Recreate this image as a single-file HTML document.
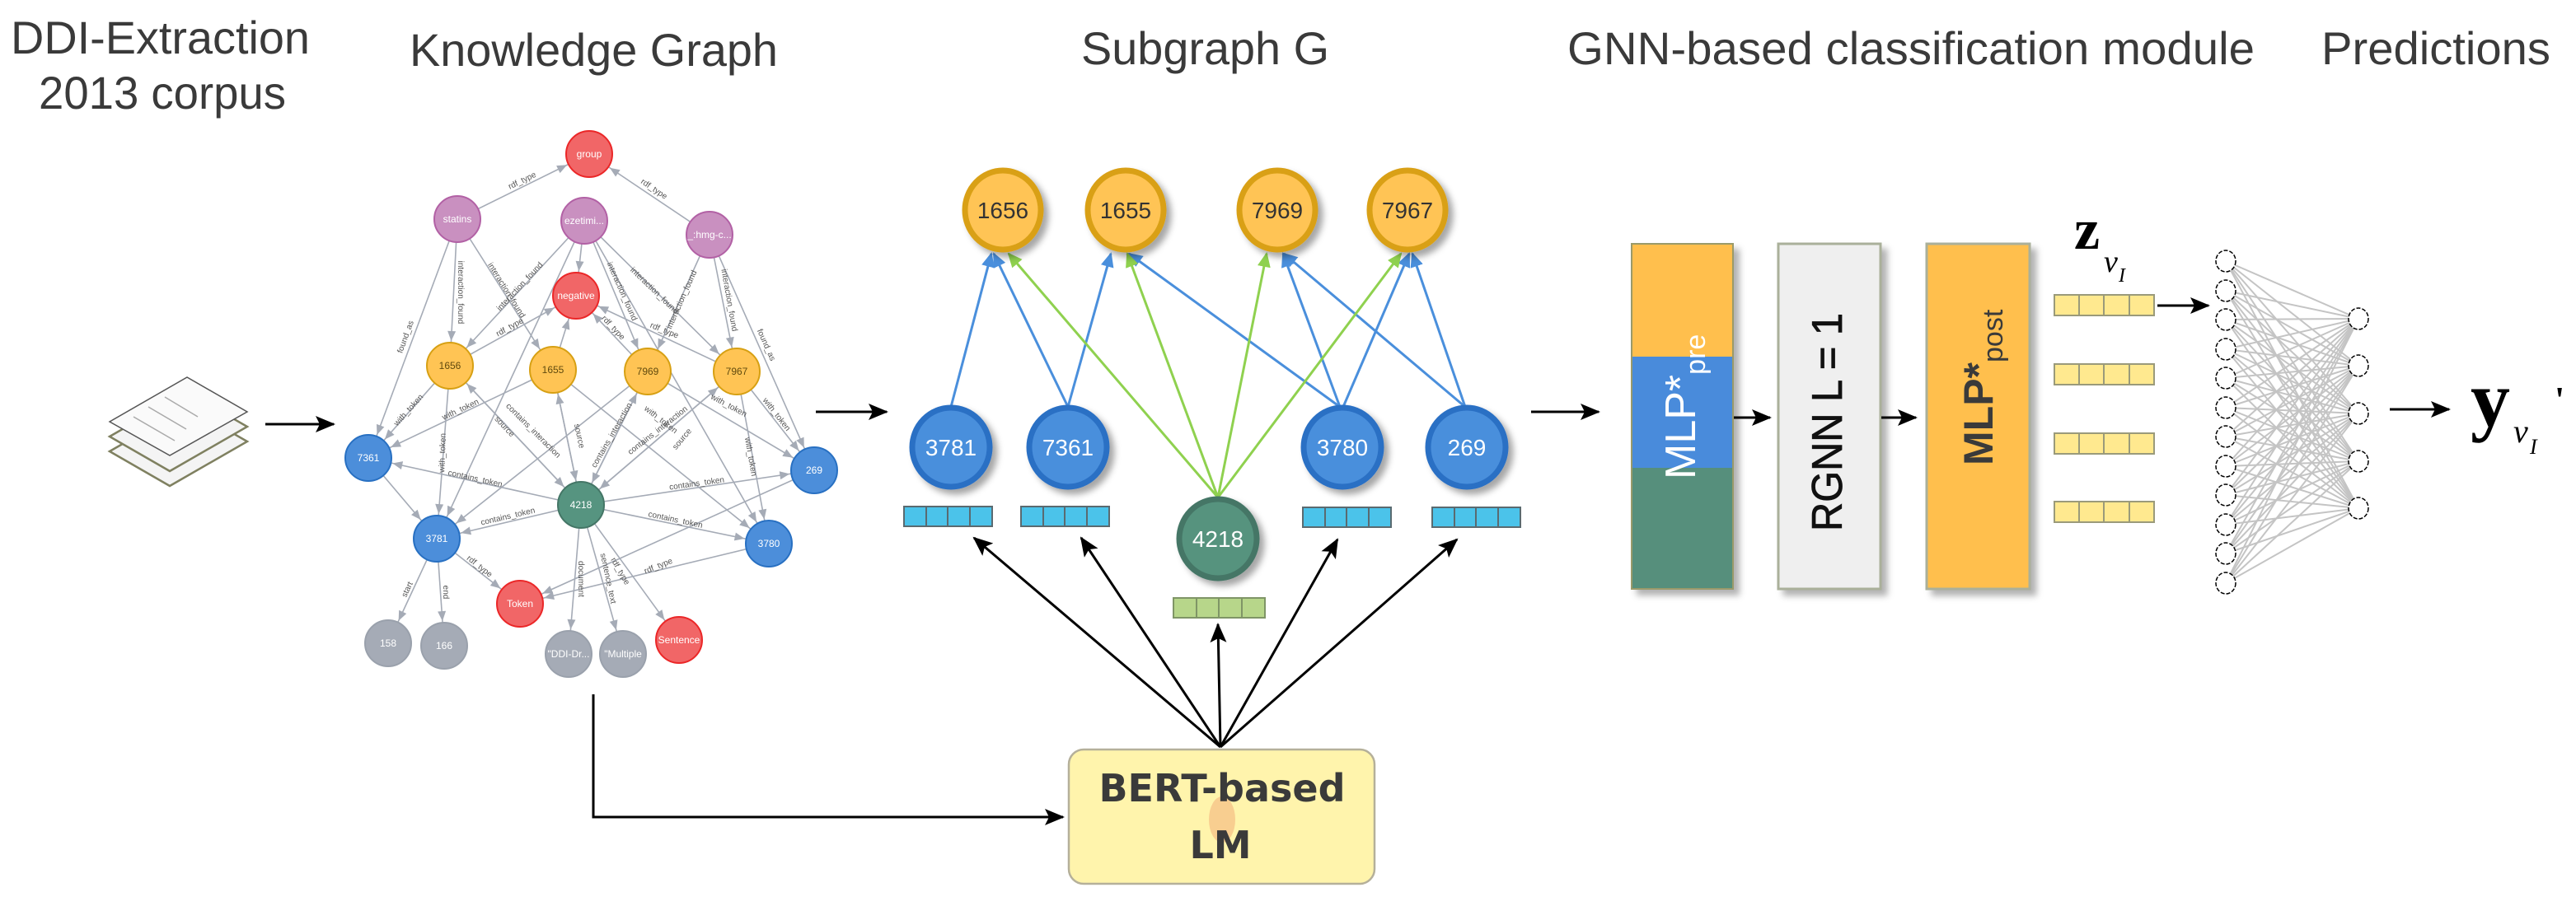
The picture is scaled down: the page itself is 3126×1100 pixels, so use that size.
<!DOCTYPE html>
<html><head><meta charset="utf-8"><style>
html,body{margin:0;padding:0;background:#fff;}
svg{display:block;}
</style></head><body>
<svg width="3126" height="1100" viewBox="0 0 3126 1100" xmlns="http://www.w3.org/2000/svg" font-family="Liberation Sans, Arial, sans-serif">
<defs>
  <marker id="kg" markerUnits="userSpaceOnUse" viewBox="-44 -6 44 12" markerWidth="44" markerHeight="12" refX="0" refY="0" orient="auto">
    <path d="M-42,-5 L-30,0 L-42,5 z" fill="#a5abb6"/>
  </marker>
  <marker id="blk" markerUnits="userSpaceOnUse" viewBox="0 -10 24 20" markerWidth="24" markerHeight="20" refX="22" refY="0" orient="auto">
    <path d="M0,-10 L24,0 L0,10 L5,0 z" fill="#000"/>
  </marker>
  <marker id="blu" markerUnits="userSpaceOnUse" viewBox="0 -8 18 16" markerWidth="18" markerHeight="16" refX="16" refY="0" orient="auto">
    <path d="M0,-8 L18,0 L0,8 z" fill="#4a8fdc"/>
  </marker>
  <marker id="grn" markerUnits="userSpaceOnUse" viewBox="0 -8 18 16" markerWidth="18" markerHeight="16" refX="16" refY="0" orient="auto">
    <path d="M0,-8 L18,0 L0,8 z" fill="#8fd14f"/>
  </marker>
  <filter id="sh" x="-30%" y="-30%" width="170%" height="170%">
    <feDropShadow dx="6" dy="6" stdDeviation="4" flood-color="#000" flood-opacity="0.35"/>
  </filter>
  <filter id="sh2" x="-20%" y="-10%" width="150%" height="130%">
    <feDropShadow dx="7" dy="7" stdDeviation="4" flood-color="#000" flood-opacity="0.3"/>
  </filter>
</defs>

<!-- Headers -->
<g fill="#3a3a3a" font-size="56">
  <text x="13" y="65" textLength="363" lengthAdjust="spacingAndGlyphs">DDI-Extraction</text>
  <text x="47" y="132" textLength="300" lengthAdjust="spacingAndGlyphs">2013 corpus</text>
  <text x="497" y="80" textLength="447" lengthAdjust="spacingAndGlyphs">Knowledge Graph</text>
  <text x="1312" y="78" textLength="301" lengthAdjust="spacingAndGlyphs">Subgraph G</text>
  <text x="1902" y="78" textLength="834" lengthAdjust="spacingAndGlyphs">GNN-based classification module</text>
  <text x="2817" y="78" textLength="278" lengthAdjust="spacingAndGlyphs">Predictions</text>
</g>

<!-- Document icon -->
<g stroke="#7f8060" stroke-width="2.5" fill="#f4f4f4">
  <polygon points="133,548 227,494 300,536 206,590"/>
  <polygon points="133,530 227,476 300,518 206,572"/>
  <polygon points="133,512 227,458 300,500 206,553" fill="#fafafa" stroke="#555" stroke-width="1.5"/>
</g>
<g stroke="#aaa" stroke-width="1.5">
  <line x1="162" y1="506" x2="212" y2="535"/>
  <line x1="180" y1="494" x2="226" y2="521"/>
  <line x1="200" y1="482" x2="240" y2="506"/>
</g>
<line x1="322" y1="515" x2="405" y2="515" stroke="#000" stroke-width="3" marker-end="url(#blk)"/>

<!-- Knowledge Graph edges -->
<g stroke="#a5abb6" stroke-width="1.6" marker-end="url(#kg)" fill="none">
  <line x1="555" y1="266" x2="715" y2="187"/>
  <line x1="861" y1="285" x2="715" y2="187"/>
  <line x1="555" y1="266" x2="546" y2="444"/>
  <line x1="555" y1="266" x2="671" y2="449"/>
  <line x1="555" y1="266" x2="447" y2="556"/>
  <line x1="709" y1="268" x2="546" y2="444"/>
  <line x1="709" y1="268" x2="699" y2="359"/>
  <line x1="709" y1="268" x2="786" y2="451"/>
  <line x1="709" y1="268" x2="894" y2="451"/>
  <line x1="709" y1="268" x2="530" y2="654"/>
  <line x1="709" y1="268" x2="933" y2="660"/>
  <line x1="861" y1="285" x2="786" y2="451"/>
  <line x1="861" y1="285" x2="894" y2="451"/>
  <line x1="861" y1="285" x2="988" y2="571"/>
  <line x1="546" y1="444" x2="699" y2="359"/>
  <line x1="671" y1="449" x2="699" y2="359"/>
  <line x1="786" y1="451" x2="699" y2="359"/>
  <line x1="894" y1="451" x2="699" y2="359"/>
  <line x1="546" y1="444" x2="447" y2="556"/>
  <line x1="546" y1="444" x2="530" y2="654"/>
  <line x1="546" y1="444" x2="705" y2="613"/>
  <line x1="671" y1="449" x2="447" y2="556"/>
  <line x1="671" y1="449" x2="705" y2="613"/>
  <line x1="671" y1="449" x2="933" y2="660"/>
  <line x1="786" y1="451" x2="705" y2="613"/>
  <line x1="786" y1="451" x2="530" y2="654"/>
  <line x1="786" y1="451" x2="988" y2="571"/>
  <line x1="894" y1="451" x2="988" y2="571"/>
  <line x1="894" y1="451" x2="933" y2="660"/>
  <line x1="894" y1="451" x2="705" y2="613"/>
  <line x1="705" y1="613" x2="546" y2="444"/>
  <line x1="705" y1="613" x2="671" y2="449"/>
  <line x1="705" y1="613" x2="786" y2="451"/>
  <line x1="705" y1="613" x2="894" y2="451"/>
  <line x1="705" y1="613" x2="447" y2="556"/>
  <line x1="705" y1="613" x2="988" y2="571"/>
  <line x1="705" y1="613" x2="530" y2="654"/>
  <line x1="705" y1="613" x2="933" y2="660"/>
  <line x1="705" y1="613" x2="690" y2="794"/>
  <line x1="705" y1="613" x2="756" y2="794"/>
  <line x1="705" y1="613" x2="824" y2="777"/>
  <line x1="530" y1="654" x2="631" y2="733"/>
  <line x1="988" y1="571" x2="631" y2="733"/>
  <line x1="933" y1="660" x2="631" y2="733"/>
  <line x1="530" y1="654" x2="471" y2="781"/>
  <line x1="530" y1="654" x2="539" y2="784"/>
  <line x1="447" y1="556" x2="530" y2="654"/>
</g>
<!-- KG edge labels -->
<g fill="#555" font-size="10" text-anchor="middle">
  <text transform="translate(635,222) rotate(-26)">rdf_type</text>
  <text transform="translate(792,232) rotate(34)">rdf_type</text>
  <text transform="translate(556,355) rotate(90)">interaction_found</text>
  <text transform="translate(612,354) rotate(58)">interaction_found</text>
  <text transform="translate(495,410) rotate(-70)">found_as</text>
  <text transform="translate(633,350) rotate(-47)">interaction_found</text>
  <text transform="translate(752,355) rotate(66)">interaction_found</text>
  <text transform="translate(792,355) rotate(44)">interaction_found</text>
  <text transform="translate(830,365) rotate(-66)">interaction_found</text>
  <text transform="translate(882,365) rotate(80)">interaction_found</text>
  <text transform="translate(927,420) rotate(66)">found_as</text>
  <text transform="translate(620,400) rotate(-29)">rdf_type</text>
  <text transform="translate(742,400) rotate(47)">rdf_type</text>
  <text transform="translate(805,404) rotate(22)">rdf_type</text>
  <text transform="translate(498,500) rotate(-48)">with_token</text>
  <text transform="translate(540,550) rotate(-88)">with_token</text>
  <text transform="translate(610,520) rotate(47)">source</text>
  <text transform="translate(560,500) rotate(-25)">with_token</text>
  <text transform="translate(645,525) rotate(45)">contains_interaction</text>
  <text transform="translate(700,530) rotate(78)">source</text>
  <text transform="translate(745,530) rotate(-60)">contains_interaction</text>
  <text transform="translate(800,525) rotate(-38)">contains_interaction</text>
  <text transform="translate(830,535) rotate(-50)">source</text>
  <text transform="translate(800,512) rotate(38)">with_token</text>
  <text transform="translate(883,495) rotate(28)">with_token</text>
  <text transform="translate(940,505) rotate(52)">with_token</text>
  <text transform="translate(908,555) rotate(80)">with_token</text>
  <text transform="translate(576,584) rotate(12.5)">contains_token</text>
  <text transform="translate(846,590) rotate(-8)">contains_token</text>
  <text transform="translate(617,630) rotate(-13)">contains_token</text>
  <text transform="translate(819,634) rotate(12)">contains_token</text>
  <text transform="translate(580,690) rotate(38)">rdf_type</text>
  <text transform="translate(800,690) rotate(-22)">rdf_type</text>
  <text transform="translate(750,695) rotate(60)">rdf_type</text>
  <text transform="translate(702,703) rotate(90)">document</text>
  <text transform="translate(735,703) rotate(78)">sentence_text</text>
  <text transform="translate(497,717) rotate(-65)">start</text>
  <text transform="translate(538,719) rotate(90)">end</text>
</g>
<!-- KG nodes -->
<g stroke-width="2" font-size="13" text-anchor="middle" fill="#fff">
  <g fill="#f16667" stroke="#eb2728">
    <circle cx="715" cy="187" r="28"/><circle cx="699" cy="359" r="28"/>
    <circle cx="631" cy="733" r="28"/><circle cx="824" cy="777" r="28"/>
  </g>
  <g fill="#c990c0" stroke="#b261a5">
    <circle cx="555" cy="266" r="28"/><circle cx="709" cy="268" r="28"/><circle cx="861" cy="285" r="28"/>
  </g>
  <g fill="#ffc454" stroke="#d7a013">
    <circle cx="546" cy="444" r="28"/><circle cx="671" cy="449" r="28"/>
    <circle cx="786" cy="451" r="28"/><circle cx="894" cy="451" r="28"/>
  </g>
  <g fill="#4c8eda" stroke="#2870c2">
    <circle cx="447" cy="556" r="28"/><circle cx="988" cy="571" r="28"/>
    <circle cx="530" cy="654" r="28"/><circle cx="933" cy="660" r="28"/>
  </g>
  <circle cx="705" cy="613" r="28" fill="#569480" stroke="#447666"/>
  <g fill="#a5abb6" stroke="#9aa1ac">
    <circle cx="471" cy="781" r="28"/><circle cx="539" cy="784" r="28"/>
    <circle cx="690" cy="794" r="28"/><circle cx="756" cy="794" r="28"/>
  </g>
</g>
<g font-size="12" text-anchor="middle" fill="#fff">
  <text x="715" y="191">group</text><text x="699" y="363">negative</text>
  <text x="631" y="737">Token</text><text x="824" y="781">Sentence</text>
  <text x="555" y="270">statins</text><text x="709" y="272">ezetimi...</text><text x="861" y="289">_:hmg-c...</text>
  <g fill="#604a0e"><text x="546" y="448">1656</text><text x="671" y="453">1655</text><text x="786" y="455">7969</text><text x="894" y="455">7967</text></g>
  <text x="447" y="560">7361</text><text x="988" y="575">269</text><text x="530" y="658">3781</text><text x="933" y="664">3780</text>
  <text x="705" y="617">4218</text>
  <text x="471" y="785">158</text><text x="539" y="788">166</text><text x="690" y="798">"DDI-Dr...</text><text x="756" y="798">"Multiple</text>
</g>

<!-- KG -> subgraph arrow -->
<line x1="990" y1="500" x2="1076" y2="500" stroke="#000" stroke-width="3" marker-end="url(#blk)"/>
<!-- KG -> BERT connector -->
<polyline points="720,843 720,992 1290,992" fill="none" stroke="#000" stroke-width="3" marker-end="url(#blk)"/>

<!-- Subgraph edges -->
<g stroke="#4a8fdc" stroke-width="3" marker-end="url(#blu)">
  <line x1="1154" y1="494" x2="1203" y2="308"/>
  <line x1="1296" y1="494" x2="1206" y2="308"/>
  <line x1="1296" y1="494" x2="1348" y2="308"/>
  <line x1="1626" y1="494" x2="1370" y2="308"/>
  <line x1="1626" y1="494" x2="1557" y2="308"/>
  <line x1="1630" y1="494" x2="1710" y2="308"/>
  <line x1="1778" y1="494" x2="1558" y2="308"/>
  <line x1="1778" y1="494" x2="1714" y2="308"/>
</g>
<g stroke="#8fd14f" stroke-width="3" marker-end="url(#grn)">
  <line x1="1478" y1="604" x2="1224" y2="308"/>
  <line x1="1478" y1="604" x2="1368" y2="308"/>
  <line x1="1478" y1="604" x2="1537" y2="308"/>
  <line x1="1478" y1="604" x2="1700" y2="308"/>
</g>
<!-- Subgraph nodes -->
<g filter="url(#sh)" stroke-width="7">
  <g fill="#ffc454" stroke="#d9a014">
    <ellipse cx="1217" cy="255" rx="46" ry="48"/><ellipse cx="1366" cy="255" rx="46" ry="48"/>
    <ellipse cx="1550" cy="255" rx="46" ry="48"/><ellipse cx="1708" cy="255" rx="46" ry="48"/>
  </g>
  <g fill="#4a8fdc" stroke="#2a6fc4">
    <ellipse cx="1154" cy="543" rx="47" ry="48"/><ellipse cx="1296" cy="543" rx="47" ry="48"/>
    <ellipse cx="1629" cy="543" rx="47" ry="48"/><ellipse cx="1780" cy="543" rx="47" ry="48"/>
  </g>
  <ellipse cx="1478" cy="654" rx="47" ry="48" fill="#56937e" stroke="#447666"/>
</g>
<g font-family="Liberation Sans Narrow, Liberation Sans, sans-serif" font-size="28" text-anchor="middle">
  <g fill="#333"><text x="1217" y="265">1656</text><text x="1366" y="265">1655</text><text x="1550" y="265">7969</text><text x="1708" y="265">7967</text></g>
  <g fill="#fff"><text x="1154" y="553">3781</text><text x="1296" y="553">7361</text><text x="1629" y="553">3780</text><text x="1780" y="553">269</text><text x="1478" y="664">4218</text></g>
</g>
<!-- Feature bars -->
<g stroke="#5a6a70" stroke-width="2" fill="#4bc3ea">
  <rect x="1097" y="615" width="107" height="24"/><rect x="1239" y="615" width="107" height="24"/>
  <rect x="1581" y="616" width="107" height="24"/><rect x="1738" y="616" width="107" height="24"/>
</g>
<g stroke="#5a6a70" stroke-width="2">
  <line x1="1124" y1="615" x2="1124" y2="639"/><line x1="1150" y1="615" x2="1150" y2="639"/><line x1="1177" y1="615" x2="1177" y2="639"/>
  <line x1="1266" y1="615" x2="1266" y2="639"/><line x1="1292" y1="615" x2="1292" y2="639"/><line x1="1319" y1="615" x2="1319" y2="639"/>
  <line x1="1608" y1="616" x2="1608" y2="640"/><line x1="1634" y1="616" x2="1634" y2="640"/><line x1="1661" y1="616" x2="1661" y2="640"/>
  <line x1="1765" y1="616" x2="1765" y2="640"/><line x1="1791" y1="616" x2="1791" y2="640"/><line x1="1818" y1="616" x2="1818" y2="640"/>
</g>
<rect x="1424" y="726" width="111" height="24" fill="#b7d68a" stroke="#7f9566" stroke-width="2"/>
<g stroke="#7f9566" stroke-width="2"><line x1="1452" y1="726" x2="1452" y2="750"/><line x1="1479" y1="726" x2="1479" y2="750"/><line x1="1507" y1="726" x2="1507" y2="750"/></g>

<!-- BERT arrows -->
<g stroke="#000" stroke-width="3" marker-end="url(#blk)">
  <line x1="1481" y1="907" x2="1182" y2="653"/>
  <line x1="1481" y1="907" x2="1312" y2="653"/>
  <line x1="1481" y1="907" x2="1478" y2="758"/>
  <line x1="1481" y1="907" x2="1623" y2="655"/>
  <line x1="1481" y1="907" x2="1768" y2="655"/>
</g>
<!-- BERT box -->
<rect x="1297" y="910" width="371" height="163" rx="18" fill="#fff4ac" stroke="#b5b09a" stroke-width="2.5"/>
<ellipse cx="1483" cy="995" rx="16" ry="28" fill="#f6c48a" opacity="0.8"/>
<g font-family="DejaVu Sans, Liberation Sans, sans-serif" font-weight="bold" font-size="46" fill="#3a3a3a" text-anchor="middle">
  <text x="1483" y="973">BERT-based</text>
  <text x="1481" y="1042">LM</text>
</g>

<!-- Subgraph -> GNN arrow -->
<line x1="1858" y1="500" x2="1940" y2="500" stroke="#000" stroke-width="3" marker-end="url(#blk)"/>

<!-- GNN module -->
<g filter="url(#sh2)">
  <rect x="1980" y="296" width="123" height="137" fill="#ffbf4d"/>
  <rect x="1980" y="433" width="123" height="135" fill="#4a8bdb"/>
  <rect x="1980" y="568" width="123" height="147" fill="#568f7c"/>
  <rect x="1980" y="296" width="123" height="419" fill="none" stroke="#9a9a6a" stroke-width="2"/>
  <rect x="2158" y="296" width="124" height="419" fill="#efefef" stroke="#aab09a" stroke-width="3"/>
  <rect x="2338" y="296" width="125" height="419" fill="#ffbf4d" stroke="#aab09a" stroke-width="3"/>
</g>
<text transform="translate(2057,582) rotate(-90)" fill="#fff" font-size="52">MLP*<tspan font-size="34" dy="12">pre</tspan></text>
<text transform="translate(2235,645) rotate(-90)" fill="#111" font-size="52" stroke="#111" stroke-width="0.8" textLength="265" lengthAdjust="spacingAndGlyphs">RGNN  L = 1</text>
<text transform="translate(2418,565) rotate(-90)" fill="#3a3a3a" font-size="50" font-weight="bold">MLP*<tspan font-size="34" font-weight="normal" dy="12">post</tspan></text>
<line x1="2104" y1="507" x2="2148" y2="507" stroke="#000" stroke-width="3" marker-end="url(#blk)"/>
<line x1="2283" y1="507" x2="2325" y2="507" stroke="#000" stroke-width="3" marker-end="url(#blk)"/>

<!-- z label -->
<g font-family="Liberation Serif, serif" fill="#000">
  <text x="2517" y="302" font-size="70" font-weight="bold">z</text>
  <text x="2553" y="330" font-size="38" font-style="italic">v</text>
  <text x="2571" y="342" font-size="24" font-style="italic">I</text>
</g>
<!-- yellow bars -->
<g stroke="#9a9a7a" stroke-width="2" fill="#ffe98f">
  <rect x="2493" y="358" width="121" height="25"/><rect x="2493" y="442" width="121" height="25"/>
  <rect x="2493" y="526" width="121" height="25"/><rect x="2493" y="609" width="121" height="25"/>
</g>
<g stroke="#9a9a7a" stroke-width="2">
  <line x1="2523" y1="358" x2="2523" y2="383"/><line x1="2553" y1="358" x2="2553" y2="383"/><line x1="2584" y1="358" x2="2584" y2="383"/>
  <line x1="2523" y1="442" x2="2523" y2="467"/><line x1="2553" y1="442" x2="2553" y2="467"/><line x1="2584" y1="442" x2="2584" y2="467"/>
  <line x1="2523" y1="526" x2="2523" y2="551"/><line x1="2553" y1="526" x2="2553" y2="551"/><line x1="2584" y1="526" x2="2584" y2="551"/>
  <line x1="2523" y1="609" x2="2523" y2="634"/><line x1="2553" y1="609" x2="2553" y2="634"/><line x1="2584" y1="609" x2="2584" y2="634"/>
</g>
<line x1="2618" y1="371" x2="2680" y2="371" stroke="#000" stroke-width="3" marker-end="url(#blk)"/>

<!-- Neural net -->
<g stroke="#c4c4c4" stroke-width="2">
<line x1="2701" y1="317" x2="2862" y2="387"/><line x1="2701" y1="317" x2="2862" y2="444"/><line x1="2701" y1="317" x2="2862" y2="502"/><line x1="2701" y1="317" x2="2862" y2="560"/><line x1="2701" y1="317" x2="2862" y2="617"/>
<line x1="2701" y1="353" x2="2862" y2="387"/><line x1="2701" y1="353" x2="2862" y2="444"/><line x1="2701" y1="353" x2="2862" y2="502"/><line x1="2701" y1="353" x2="2862" y2="560"/><line x1="2701" y1="353" x2="2862" y2="617"/>
<line x1="2701" y1="388" x2="2862" y2="387"/><line x1="2701" y1="388" x2="2862" y2="444"/><line x1="2701" y1="388" x2="2862" y2="502"/><line x1="2701" y1="388" x2="2862" y2="560"/><line x1="2701" y1="388" x2="2862" y2="617"/>
<line x1="2701" y1="424" x2="2862" y2="387"/><line x1="2701" y1="424" x2="2862" y2="444"/><line x1="2701" y1="424" x2="2862" y2="502"/><line x1="2701" y1="424" x2="2862" y2="560"/><line x1="2701" y1="424" x2="2862" y2="617"/>
<line x1="2701" y1="459" x2="2862" y2="387"/><line x1="2701" y1="459" x2="2862" y2="444"/><line x1="2701" y1="459" x2="2862" y2="502"/><line x1="2701" y1="459" x2="2862" y2="560"/><line x1="2701" y1="459" x2="2862" y2="617"/>
<line x1="2701" y1="495" x2="2862" y2="387"/><line x1="2701" y1="495" x2="2862" y2="444"/><line x1="2701" y1="495" x2="2862" y2="502"/><line x1="2701" y1="495" x2="2862" y2="560"/><line x1="2701" y1="495" x2="2862" y2="617"/>
<line x1="2701" y1="530" x2="2862" y2="387"/><line x1="2701" y1="530" x2="2862" y2="444"/><line x1="2701" y1="530" x2="2862" y2="502"/><line x1="2701" y1="530" x2="2862" y2="560"/><line x1="2701" y1="530" x2="2862" y2="617"/>
<line x1="2701" y1="566" x2="2862" y2="387"/><line x1="2701" y1="566" x2="2862" y2="444"/><line x1="2701" y1="566" x2="2862" y2="502"/><line x1="2701" y1="566" x2="2862" y2="560"/><line x1="2701" y1="566" x2="2862" y2="617"/>
<line x1="2701" y1="601" x2="2862" y2="387"/><line x1="2701" y1="601" x2="2862" y2="444"/><line x1="2701" y1="601" x2="2862" y2="502"/><line x1="2701" y1="601" x2="2862" y2="560"/><line x1="2701" y1="601" x2="2862" y2="617"/>
<line x1="2701" y1="637" x2="2862" y2="387"/><line x1="2701" y1="637" x2="2862" y2="444"/><line x1="2701" y1="637" x2="2862" y2="502"/><line x1="2701" y1="637" x2="2862" y2="560"/><line x1="2701" y1="637" x2="2862" y2="617"/>
<line x1="2701" y1="672" x2="2862" y2="387"/><line x1="2701" y1="672" x2="2862" y2="444"/><line x1="2701" y1="672" x2="2862" y2="502"/><line x1="2701" y1="672" x2="2862" y2="560"/><line x1="2701" y1="672" x2="2862" y2="617"/>
<line x1="2701" y1="708" x2="2862" y2="387"/><line x1="2701" y1="708" x2="2862" y2="444"/><line x1="2701" y1="708" x2="2862" y2="502"/><line x1="2701" y1="708" x2="2862" y2="560"/><line x1="2701" y1="708" x2="2862" y2="617"/>
</g>
<g fill="#fff" stroke="#000" stroke-width="1.5" stroke-dasharray="5,2">
  <ellipse cx="2701" cy="317" rx="12" ry="13"/><ellipse cx="2701" cy="353" rx="12" ry="13"/><ellipse cx="2701" cy="388" rx="12" ry="13"/>
  <ellipse cx="2701" cy="424" rx="12" ry="13"/><ellipse cx="2701" cy="459" rx="12" ry="13"/><ellipse cx="2701" cy="495" rx="12" ry="13"/>
  <ellipse cx="2701" cy="530" rx="12" ry="13"/><ellipse cx="2701" cy="566" rx="12" ry="13"/><ellipse cx="2701" cy="601" rx="12" ry="13"/>
  <ellipse cx="2701" cy="637" rx="12" ry="13"/><ellipse cx="2701" cy="672" rx="12" ry="13"/><ellipse cx="2701" cy="708" rx="12" ry="13"/>
  <ellipse cx="2862" cy="387" rx="12" ry="13"/><ellipse cx="2862" cy="444" rx="12" ry="13"/><ellipse cx="2862" cy="502" rx="12" ry="13"/>
  <ellipse cx="2862" cy="560" rx="12" ry="13"/><ellipse cx="2862" cy="617" rx="12" ry="13"/>
</g>
<line x1="2900" y1="497" x2="2972" y2="497" stroke="#000" stroke-width="3" marker-end="url(#blk)"/>

<!-- y label -->
<g font-family="Liberation Serif, serif" fill="#000">
  <text x="2998" y="517" font-size="96" font-weight="bold">y</text>
  <text x="3050" y="537" font-size="40" font-style="italic">v</text>
  <text x="3070" y="551" font-size="26" font-style="italic">I</text>
  <text x="3100" y="500" font-size="44" font-weight="bold">'</text>
</g>
</svg>
</body></html>
